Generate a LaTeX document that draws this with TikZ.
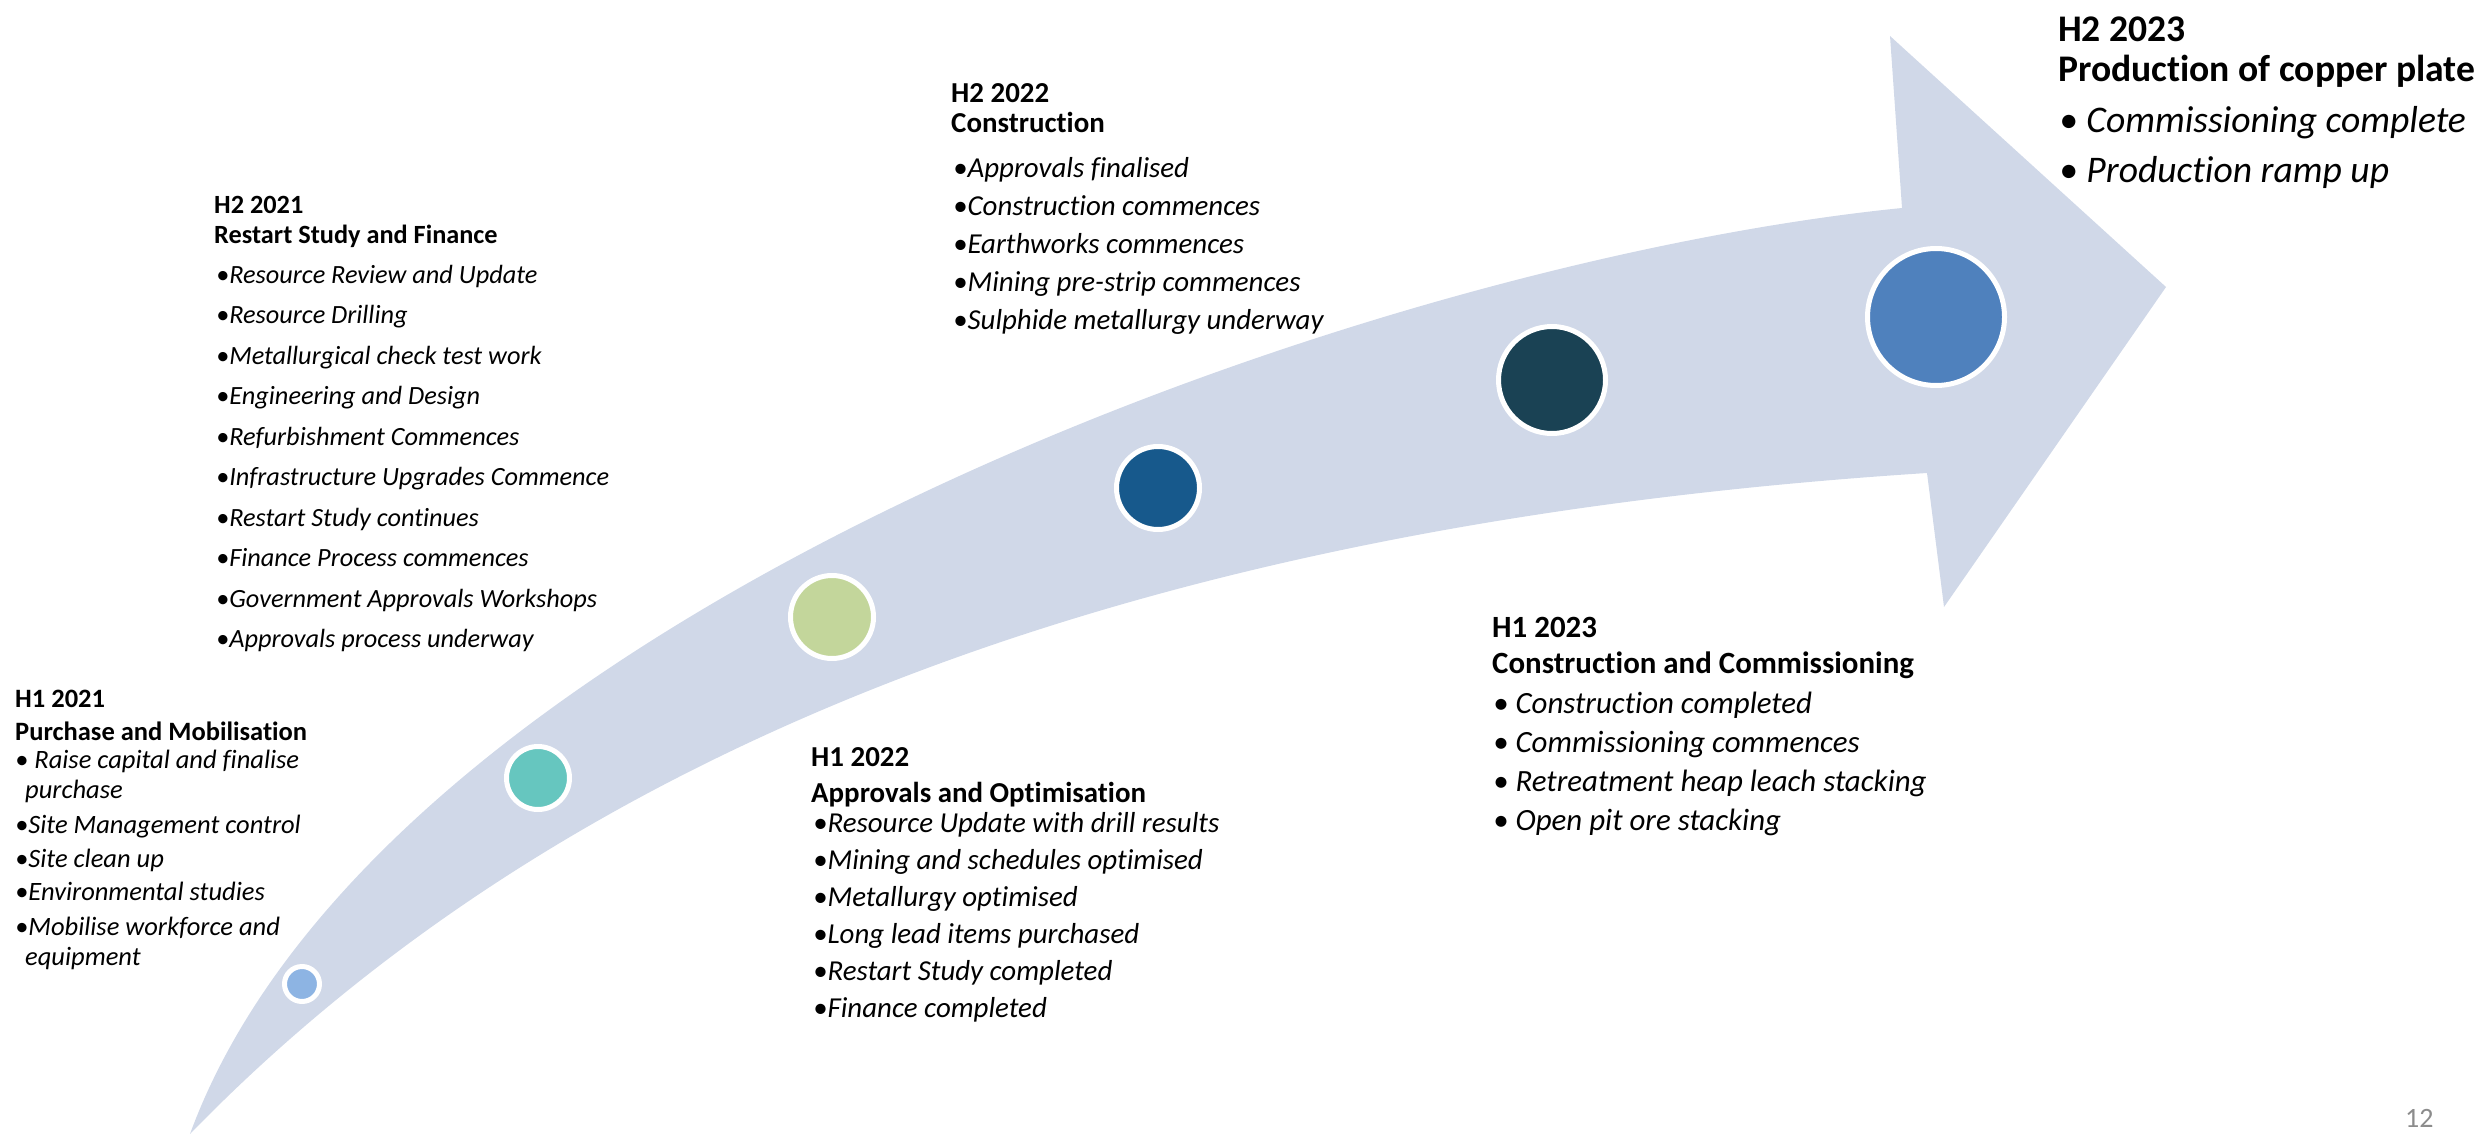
\documentclass[tikz,border=0pt]{standalone}
\usepackage{fontspec}
\setmainfont{Carlito}[Ligatures=NoCommon]
\usepackage{xcolor}
\usepackage{tikz}
\definecolor{bandgray}{RGB}{208,216,232}
\definecolor{mileA}{RGB}{141,180,227}
\definecolor{mileB}{RGB}{102,198,191}
\definecolor{mileC}{RGB}{195,214,155}
\definecolor{mileD}{RGB}{23,89,140}
\definecolor{mileE}{RGB}{26,66,84}
\definecolor{mileF}{RGB}{79,129,189}
\definecolor{pagegray}{RGB}{140,140,140}

\begin{document}
\begin{tikzpicture}[x=1pt,y=-1pt,
  milestone/.style={circle,fill=#1,draw=white,line width=5pt,inner sep=0pt},
  stagehead/.style={anchor=base west,inner sep=0pt,font=\fontsize{#1}{#1}\selectfont\bfseries},
  stageitem/.style={anchor=base west,inner sep=0pt,font=\fontsize{#1}{#1}\selectfont\itshape}]

\useasboundingbox (0,0) rectangle (2483,1134);

\fill[bandgray] (190,1134) .. controls (379,618) and (1355,263) .. (1902,208)
  -- (1890,36) -- (2166,287) -- (1944,607) -- (1927,473)
  .. controls (1228,518) and (610,702) .. (190,1134) -- cycle;		% gebogener Pfeil

\node[milestone=mileA,minimum size=35] (m1) at (302,984) {};		% H1 2021
\node[milestone=mileB,minimum size=63] (m2) at (538,778) {};		% H2 2021
\node[milestone=mileC,minimum size=83] (m3) at (832,617) {};		% H1 2022
\node[milestone=mileD,minimum size=83] (m4) at (1158,488) {};		% H2 2022
\node[milestone=mileE,minimum size=107] (m5) at (1552,380) {};		% H1 2023
\node[milestone=mileF,minimum size=137] (m6) at (1936,317) {};		% H2 2023

\node[stagehead=26.5] (s1a) at (15,707) {H1 2021};					% Block H1 2021
\node[stagehead=26.5] (s1b) at (15,740) {Purchase and Mobilisation};
\node[stageitem=26.5] (s1i1) at (15,768) {•\ Raise capital and finalise};
\node[stageitem=26.5] (s1i2) at (25,798) {purchase};
\node[stageitem=26.5] (s1i3) at (15,833) {•Site Management control};
\node[stageitem=26.5] (s1i4) at (15,867) {•Site clean up};
\node[stageitem=26.5] (s1i5) at (15,900) {•Environmental studies};
\node[stageitem=26.5] (s1i6) at (15,935) {•Mobilise workforce and};
\node[stageitem=26.5] (s1i7) at (25,965) {equipment};

\node[stagehead=26.3] (s2a) at (214,213) {H2 2021};					% Block H2 2021
\node[stagehead=26.3] (s2b) at (214,243) {Restart Study and Finance};
\foreach \t [count=\i] in {Resource Review and Update,Resource Drilling,Metallurgical check test work,
  Engineering and Design,Refurbishment Commences,Infrastructure Upgrades Commence,Restart Study continues,
  Finance Process commences,Government Approvals Workshops,Approvals process underway}
  \node[stageitem=26.3] (s2i\i) at (216,242.5+40.5*\i) {•\t};

\node[stagehead=28.9] (s3a) at (811,766) {H1 2022};					% Block H1 2022
\node[stagehead=28.9] (s3b) at (811,802) {Approvals and Optimisation};
\foreach \t [count=\i] in {Resource Update with drill results,Mining and schedules optimised,Metallurgy optimised,
  Long lead items purchased,Restart Study completed,Finance completed}
  \node[stageitem=28.9] (s3i\i) at (813,795+37*\i) {•\t};

\node[stagehead=28.9] (s4a) at (951,103) {H2 2022};					% Block H2 2022
\node[stagehead=28.9] (s4b) at (951,133) {Construction};
\foreach \t [count=\i] in {Approvals finalised,Construction commences,Earthworks commences,
  Mining pre-strip commences,Sulphide metallurgy underway}
  \node[stageitem=28.9] (s4i\i) at (953,140.25+37.75*\i) {•\t};

\node[stagehead=30.9] (s5a) at (1492,637) {H1 2023};				% Block H1 2023
\node[stagehead=30.9] (s5b) at (1492,673) {Construction and Commissioning};
\foreach \t [count=\i] in {Construction completed,Commissioning commences,Retreatment heap leach stacking,
  Open pit ore stacking}
  \node[stageitem=30.9] (s5i\i) at (1493,674+39*\i) {•\ \t};

\node[stagehead=37.6] (s6a) at (2058,42) {H2 2023};					% Block H2 2023
\node[stagehead=37.6] (s6b) at (2058,82) {Production of copper plate};
\node[stageitem=37.6] (s6i1) at (2059,133) {•\ Commissioning complete};
\node[stageitem=37.6] (s6i2) at (2059,183) {•\ Production ramp up};

\node[anchor=base west,inner sep=0pt,font=\fontsize{28}{28}\selectfont,text=pagegray] (pnum) at (2405,1127) {12};	% Seitenzahl

\end{tikzpicture}
\end{document}
